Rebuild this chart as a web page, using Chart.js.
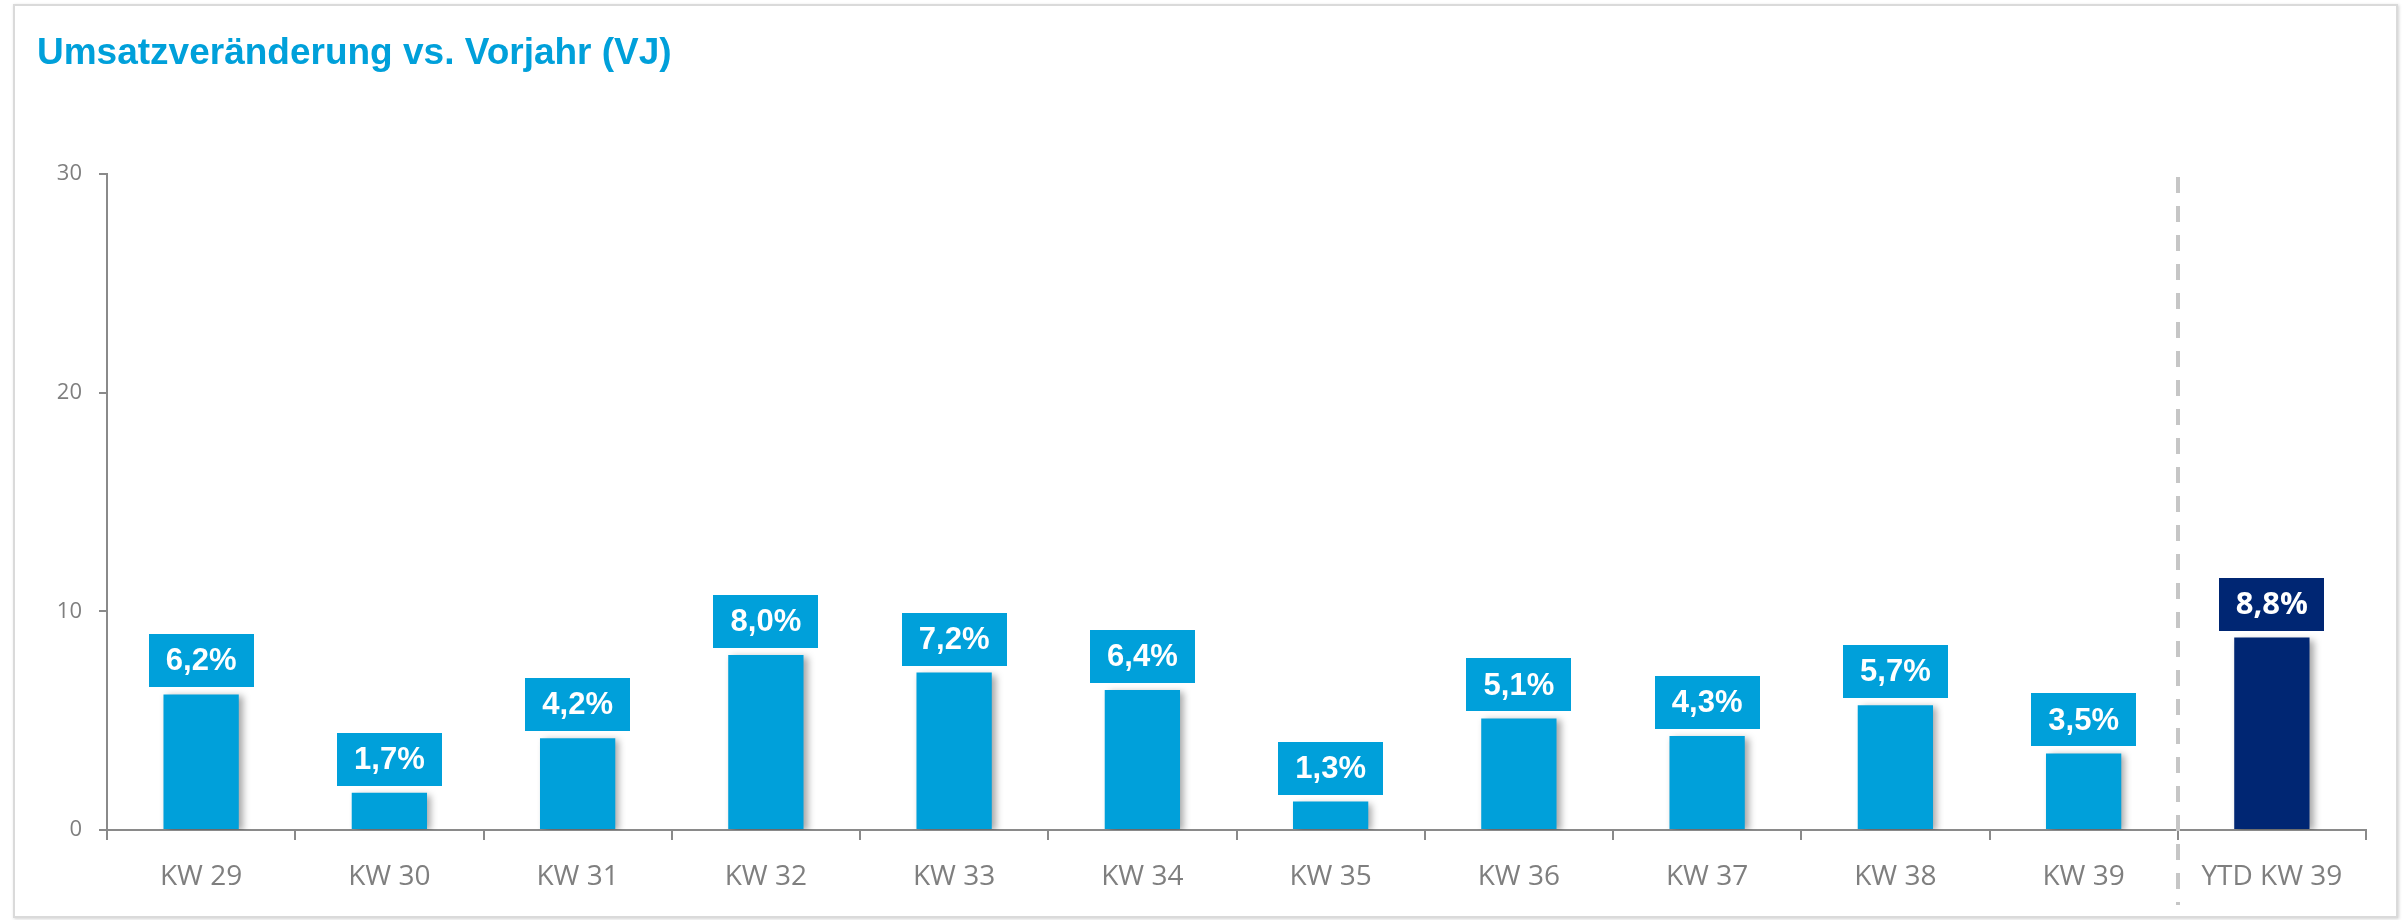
<!DOCTYPE html>
<html lang="de">
<head>
<meta charset="utf-8">
<title>Umsatzveränderung vs. Vorjahr (VJ)</title>
<script src="https://cdn.jsdelivr.net/npm/chart.js@4/dist/chart.umd.min.js"></script>
<style>
  html, body { margin: 0; padding: 0; background: #ffffff; }
  #wrap { position: relative; width: 2407px; height: 920px; overflow: hidden; }
  #frame {
    position: absolute; left: 13px; top: 4px; width: 2381px; height: 910px;
    border: 2px solid #dadada; box-shadow: 1px 1px 3px rgba(0,0,0,0.18);
    background: #ffffff;
  }
  #chart { position: absolute; left: 0; top: 0; }
</style>
</head>
<body>
<div id="wrap">
  <div id="frame"></div>
  <canvas id="chart" width="2407" height="920"></canvas>
</div>
<script>
// Weekly sales change versus prior year, in percent
const categories = ['KW 29', 'KW 30', 'KW 31', 'KW 32', 'KW 33', 'KW 34', 'KW 35', 'KW 36', 'KW 37', 'KW 38', 'KW 39', 'YTD KW 39'];
const changePct = [6.2, 1.7, 4.2, 8.0, 7.2, 6.4, 1.3, 5.1, 4.3, 5.7, 3.5, 8.8];
const yTicks = [0, 10, 20, 30];
const chartTitle = 'Umsatzveränderung vs. Vorjahr (VJ)';

const WEEK_BLUE = '#00a0da';
const YTD_NAVY = '#002673';
const AXIS_GREY = '#8a8a8a';
const TEXT_GREY = '#7f7f7f';

const isYtd = (label) => label.startsWith('YTD');
const barColors = categories.map(c => isYtd(c) ? YTD_NAVY : WEEK_BLUE);
const fmtPct = (v) => v.toFixed(1).replace('.', ',') + '%';

// Title in the upper left corner
const titlePlugin = {
  id: 'cornerTitle',
  afterDraw(chart) {
    const ctx = chart.ctx;
    ctx.save();
    ctx.font = 'bold 37px "Liberation Sans", Arial, sans-serif';
    ctx.fillStyle = WEEK_BLUE;
    ctx.textAlign = 'left';
    ctx.textBaseline = 'alphabetic';
    ctx.fillText(chartTitle, 37, 64);
    ctx.restore();
  }
};

// Soft drop shadow behind the bars
const barShadow = {
  id: 'barShadow',
  beforeDatasetDraw(chart) {
    const ctx = chart.ctx;
    ctx.save();
    ctx.shadowColor = 'rgba(0,0,0,0.35)';
    ctx.shadowBlur = 7;
    ctx.shadowOffsetX = 4;
    ctx.shadowOffsetY = 2;
  },
  afterDatasetDraw(chart) {
    chart.ctx.restore();
  }
};

// Dashed separator between the weekly bars and the year-to-date bar
const ytdSeparator = {
  id: 'ytdSeparator',
  afterDraw(chart) {
    const idx = categories.findIndex(isYtd);
    if (idx < 1) return;
    const x = chart.scales.x;
    const y = chart.scales.y;
    const px = Math.round((x.getPixelForValue(idx - 1) + x.getPixelForValue(idx)) / 2);
    const ctx = chart.ctx;
    ctx.save();
    ctx.strokeStyle = '#c6c6c6';
    ctx.lineWidth = 4;
    ctx.setLineDash([16, 13]);
    ctx.beginPath();
    ctx.moveTo(px, y.getPixelForValue(yTicks[yTicks.length - 1]) + 3);
    ctx.lineTo(px, y.bottom + 75);
    ctx.stroke();
    ctx.restore();
  }
};

// Value boxes above each bar
const valueBoxes = {
  id: 'valueBoxes',
  afterDatasetsDraw(chart) {
    const ctx = chart.ctx;
    const meta = chart.getDatasetMeta(0);
    const boxW = 105, boxH = 53, gap = 7;
    meta.data.forEach((bar, i) => {
      const cx = bar.x;
      const bottom = bar.y - gap;
      ctx.save();
      ctx.fillStyle = barColors[i];
      ctx.fillRect(Math.round(cx - boxW / 2), Math.round(bottom - boxH), boxW, boxH);
      ctx.fillStyle = '#ffffff';
      ctx.textAlign = 'center';
      ctx.textBaseline = 'middle';
      ctx.font = isYtd(categories[i])
        ? 'bold 31px "Open Sans", sans-serif'
        : 'bold 31px "Liberation Sans", Arial, sans-serif';
      ctx.fillText(fmtPct(changePct[i]), cx, bottom - boxH / 2 + 1);
      ctx.restore();
    });
  }
};

new Chart(document.getElementById('chart'), {
  type: 'bar',
  data: {
    labels: categories,
    datasets: [{
      data: changePct,
      backgroundColor: barColors,
      borderWidth: 0,
      categoryPercentage: 1.0,
      barPercentage: 0.4
    }]
  },
  options: {
    responsive: false,
    animation: false,
    devicePixelRatio: 1,
    layout: { padding: { left: 0, right: 41, top: 174, bottom: 0 } },
    plugins: {
      legend: { display: false },
      tooltip: { enabled: false },
      title: { display: false }
    },
    scales: {
      x: {
        offset: true,
        border: { display: true, color: AXIS_GREY, width: 2 },
        grid: {
          offset: true,
          drawOnChartArea: false,
          drawTicks: true,
          tickLength: 10,
          color: AXIS_GREY,
          lineWidth: 2
        },
        ticks: {
          color: TEXT_GREY,
          font: { family: '"Open Sans", sans-serif', size: 28 },
          padding: 20,
          maxRotation: 0,
          autoSkip: false
        },
        afterFit(scale) { scale.height = 90; }
      },
      y: {
        min: yTicks[0],
        max: yTicks[yTicks.length - 1],
        afterBuildTicks(scale) { scale.ticks = yTicks.map(v => ({ value: v })); },
        border: { display: true, color: AXIS_GREY, width: 2 },
        grid: {
          drawOnChartArea: false,
          drawTicks: true,
          tickLength: 8,
          color: AXIS_GREY,
          lineWidth: 2
        },
        ticks: {
          color: TEXT_GREY,
          font: { family: '"Open Sans", sans-serif', size: 22 },
          padding: 17
        },
        afterFit(scale) { scale.width = 107; }
      }
    }
  },
  plugins: [barShadow, valueBoxes, ytdSeparator, titlePlugin]
});
</script>
</body>
</html>
